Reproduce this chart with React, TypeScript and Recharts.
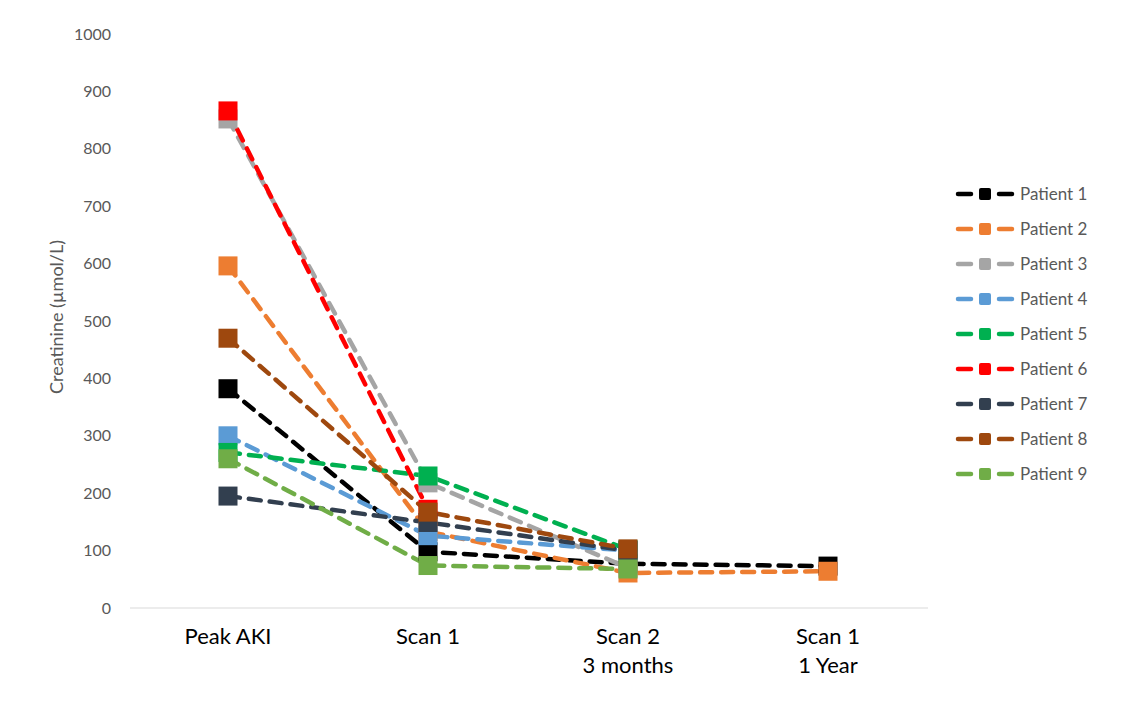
import { LineChart, Line, XAxis, YAxis } from 'recharts';

const stages = ['Peak AKI', 'Scan 1', 'Scan 2\n3 months', 'Scan 1\n1 Year'];

const patient1 = [382, 98, 77, 73];
const patient2 = [596, 133, 61, 64];
const patient3 = [852, 218, 70, null];
const patient4 = [300, 126, 100, null];
const patient5 = [271, 230, 102, null];
const patient6 = [866, 172, null, null];
const patient7 = [195, 149, 100, null];
const patient8 = [470, 167, 103, null];
const patient9 = [260, 74, 68, null];

const yTicks = [0, 100, 200, 300, 400, 500, 600, 700, 800, 900, 1000];

const series = [
  { name: 'Patient 1', color: '#000000', values: patient1 },
  { name: 'Patient 2', color: '#ED7D31', values: patient2 },
  { name: 'Patient 3', color: '#A5A5A5', values: patient3 },
  { name: 'Patient 4', color: '#5B9BD5', values: patient4 },
  { name: 'Patient 5', color: '#00B050', values: patient5 },
  { name: 'Patient 6', color: '#FF0000', values: patient6 },
  { name: 'Patient 7', color: '#323F4F', values: patient7 },
  { name: 'Patient 8', color: '#9E480E', values: patient8 },
  { name: 'Patient 9', color: '#70AD47', values: patient9 },
];

const data = stages.map((stage, i) => {
  const row: any = { stage };
  series.forEach((s, k) => {
    row['p' + (k + 1)] = s.values[i];
  });
  return row;
});

const FONT = 'Lato, "Open Sans", sans-serif';

const StageTick = (props: any) => {
  const { x, y, payload } = props;
  const lines = String(payload.value).split('\n');
  return (
    <text x={x} y={y} textAnchor="middle" fill="#000" fontSize={22} fontFamily={FONT}>
      {lines.map((l, i) => (
        <tspan key={i} x={x} dy={i === 0 ? 36 : 29}>
          {l}
        </tspan>
      ))}
    </text>
  );
};

const squareDot = (color: string) => (props: any) => {
  const { cx, cy, index } = props;
  if (cx == null || cy == null || isNaN(cy)) return <g key={index} />;
  return <rect key={index} x={cx - 9.5} y={cy - 9.5} width={19} height={19} fill={color} />;
};

const LegendBox = () => (
  <div style={{ position: 'absolute', left: 955, top: 176, fontFamily: FONT, fontSize: 17, color: '#595959' }}>
    {series.map((s) => (
      <div key={s.name} style={{ display: 'flex', alignItems: 'center', height: 35 }}>
        <svg width={62} height={14}>
          <line x1={3} y1={7} x2={16} y2={7} stroke={s.color} strokeWidth={4.5} strokeLinecap="round" />
          <rect x={24} y={1} width={12} height={12} rx={2} fill={s.color} />
          <line x1={44} y1={7} x2={57} y2={7} stroke={s.color} strokeWidth={4.5} strokeLinecap="round" />
        </svg>
        <span style={{ marginLeft: 3 }}>{s.name}</span>
      </div>
    ))}
  </div>
);

const YLabel = () => (
  <text
    x={63}
    y={317}
    transform="rotate(-90 63 317)"
    textAnchor="middle"
    fill="#595959"
    fontSize={18}
    fontFamily={FONT}
  >
    Creatinine (µmol/L)
  </text>
);

export default function App() {
  return (
    <div style={{ margin: -8, background: '#fff', width: 1130, height: 702, position: 'relative' }}>
      <LineChart width={1130} height={702} data={data} margin={{ top: 34, right: 202, left: 0, bottom: 0 }}>
        <XAxis
          dataKey="stage"
          padding={{ left: 98, right: 100 }}
          axisLine={{ stroke: '#D9D9D9', strokeWidth: 1 }}
          tickLine={false}
          tickSize={0}
          tickMargin={0}
          tick={<StageTick />}
          interval={0}
          height={94}
        />
        <YAxis
          width={130}
          domain={[0, 1000]}
          ticks={yTicks}
          axisLine={false}
          tickLine={false}
          tickSize={0}
          tickMargin={19}
          tick={{ fill: '#595959', fontSize: 16, fontFamily: FONT }}
          interval={0}
        />
        {series.map((s, k) => (
          <Line
            key={s.name}
            dataKey={'p' + (k + 1)}
            name={s.name}
            stroke={s.color}
            strokeWidth={4.5}
            strokeDasharray="12 9"
            strokeLinecap="round"
            dot={squareDot(s.color)}
            activeDot={false}
            isAnimationActive={false}
            type="linear"
          />
        ))}
        <YLabel />
      </LineChart>
      <LegendBox />
    </div>
  );
}
